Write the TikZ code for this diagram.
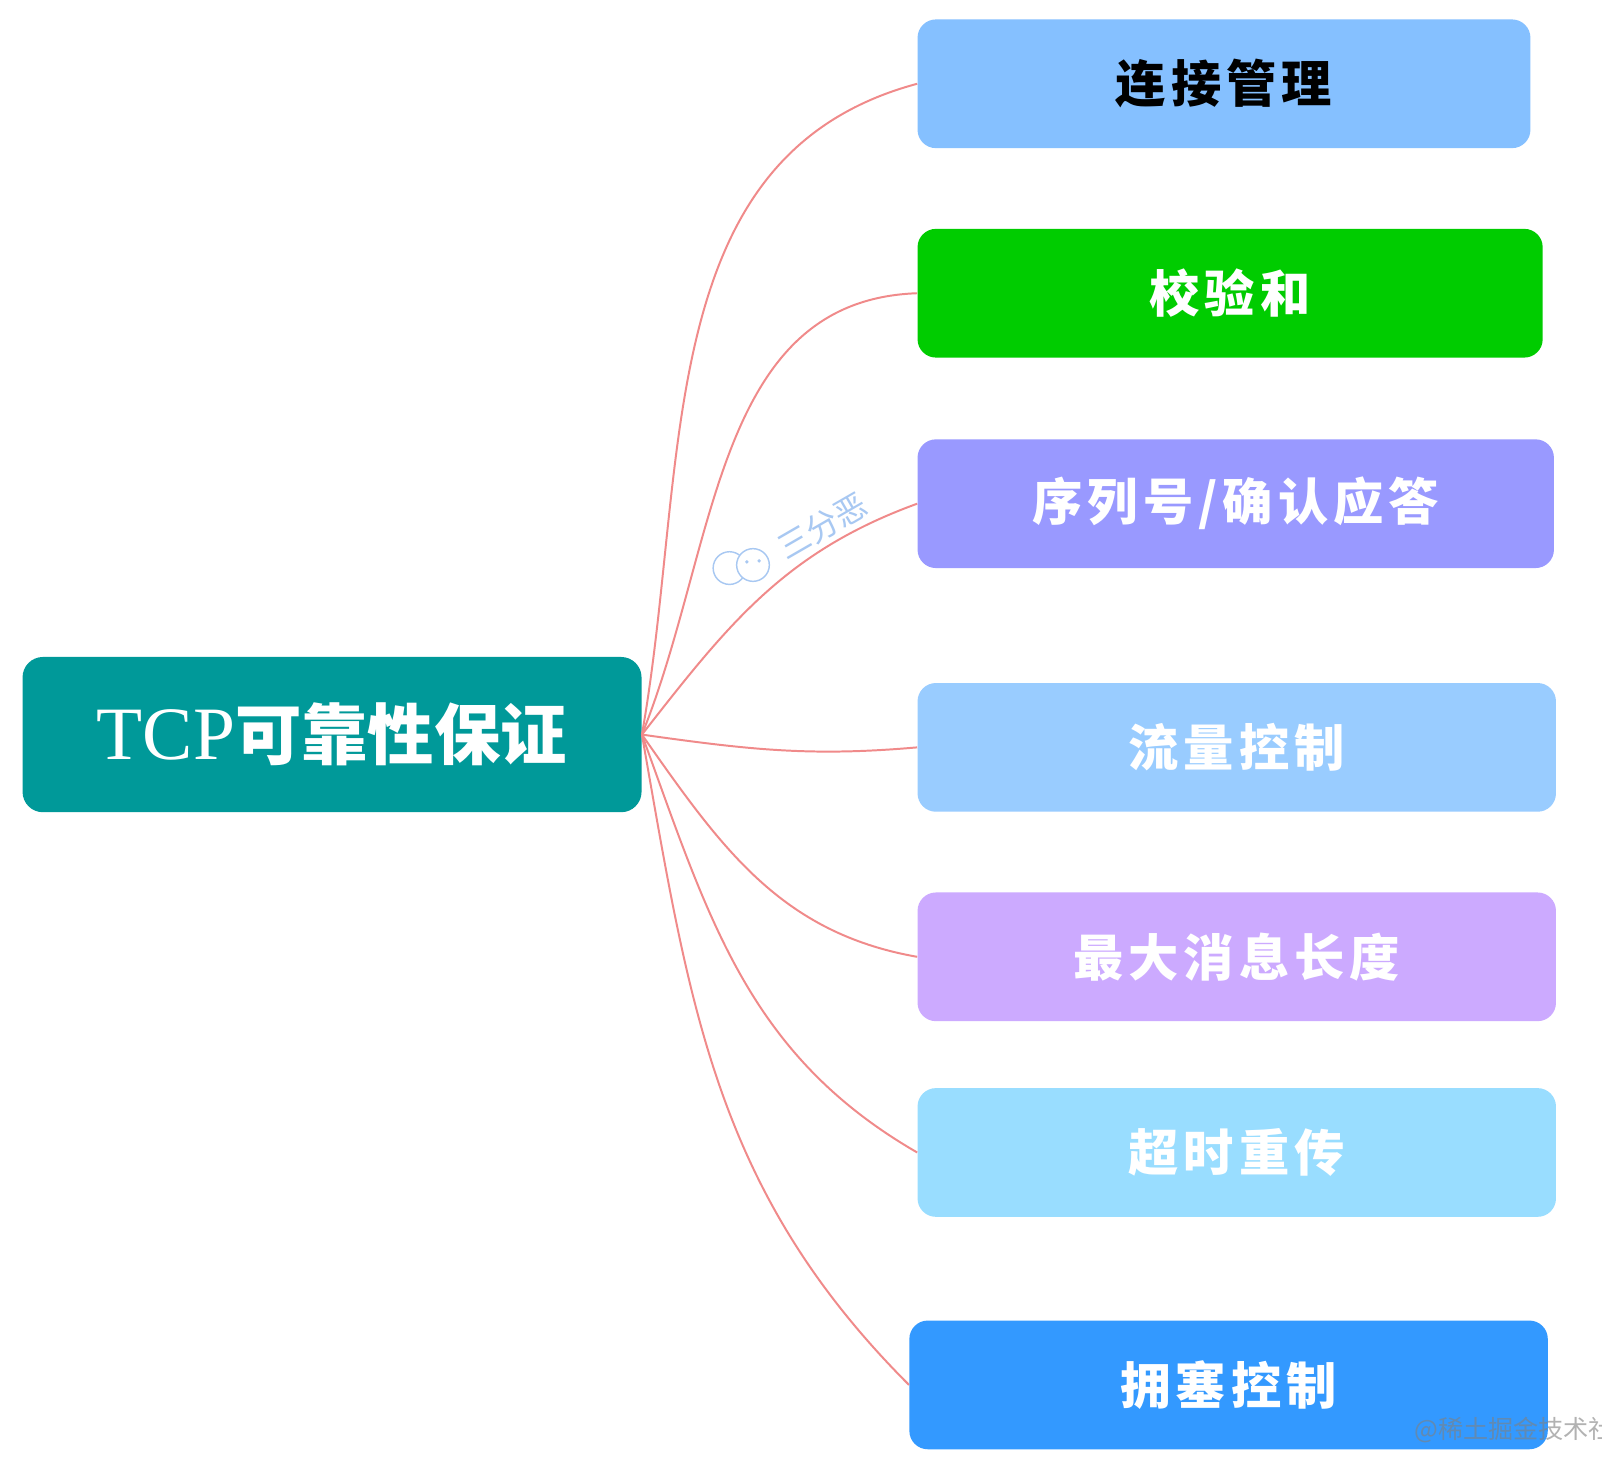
\documentclass[tikz,border=0pt]{standalone}
\usepackage{fontspec}
\usepackage{tikz}
\newfontfamily\cjk{Noto Sans CJK SC}
\newfontfamily\cjkwide[LetterSpace=10]{Noto Sans CJK SC}
\newfontfamily\serif{Liberation Serif}
\definecolor{rootteal}{HTML}{009999}
\definecolor{connblue}{HTML}{85C0FF}
\definecolor{checkgreen}{HTML}{00CC00}
\definecolor{seqviolet}{HTML}{9999FF}
\definecolor{flowblue}{HTML}{99CCFF}
\definecolor{msslilac}{HTML}{CCAAFF}
\definecolor{retrcyan}{HTML}{99DDFF}
\definecolor{congblue}{HTML}{3399FF}
\definecolor{branchred}{HTML}{F08A8A}
\definecolor{wmblue}{HTML}{A8C8F2}
\tikzstyle{rootbox} = [fill=rootteal, text=white, rectangle, rounded corners=0.4cm,
    minimum width=12.12cm, minimum height=3.04cm, inner sep=0]
\tikzstyle{leafbox} = [text=white, rectangle, rounded corners=0.36cm,
    minimum height=2.52cm, inner sep=0, font=\cjkwide\bfseries\fontsize{28}{34}\selectfont]
\tikzstyle{branch} = [draw=branchred, line width=1.1pt]
\tikzstyle{watermark} = [text=wmblue, font=\cjk\fontsize{18}{20}\selectfont]

\begin{document}
\begin{tikzpicture}[x=0.02cm, y=0.02cm]
    \useasboundingbox (0,0) rectangle (1568,-1451.6);
    \fill[white] (0,0) rectangle (1568,-1451.6);

    % root
    \node [rootbox] (root) at (325,-719) {{\serif\fontsize{42}{46}\selectfont TCP}{\cjk\bfseries\fontsize{37}{42}\selectfont 可靠性保证}};

    % leaves
    \node [leafbox, fill=connblue, text=black, minimum width=12cm] (conn) at (1198,-82) {连接管理};
    \node [leafbox, fill=checkgreen, minimum width=12.24cm] (check) at (1204,-287) {校验和};
    \node [leafbox, fill=seqviolet, minimum width=12.46cm] (seq) at (1209.5,-493) {序列号/确认应答};
    \node [leafbox, fill=flowblue, minimum width=12.5cm] (flow) at (1210.5,-731.5) {流量控制};
    \node [leafbox, fill=msslilac, minimum width=12.5cm] (mss) at (1210.5,-936.5) {最大消息长度};
    \node [leafbox, fill=retrcyan, minimum width=12.5cm] (retr) at (1210.5,-1128) {超时重传};
    \node [leafbox, fill=congblue, minimum width=12.5cm] (cong) at (1202.5,-1355.5) {拥塞控制};

    % branches
    \draw [branch] (root.east) to[out=80, in=195] (conn.west);
    \draw [branch] (root.east) to[out=68, in=182] (check.west);
    \draw [branch] (root.east) to[out=52, in=200] (seq.west);
    \draw [branch] (root.east) to[out=-8, in=185] (flow.west);
    \draw [branch] (root.east) to[out=-55, in=170] (mss.west);
    \draw [branch] (root.east) to[out=-70, in=150] (retr.west);
    \draw [branch] (root.east) to[out=-80, in=135] (cong.west);

    % watermarks
    \draw [wmblue, line width=0.8pt] (714,-556) circle (16);
    \draw [wmblue, line width=0.8pt, fill=white] (737,-553) circle (16);
    \fill [wmblue] (731,-550) circle (1.8) (743,-549) circle (1.8);
    \node [watermark, rotate=30] (wmname) at (805,-515) {三分恶};
    \node [anchor=west, text=gray, opacity=0.6, font=\cjk\fontsize{14}{17}\selectfont] (wmsite) at (1378,-1400) {@稀土掘金技术社区};
\end{tikzpicture}
\end{document}
